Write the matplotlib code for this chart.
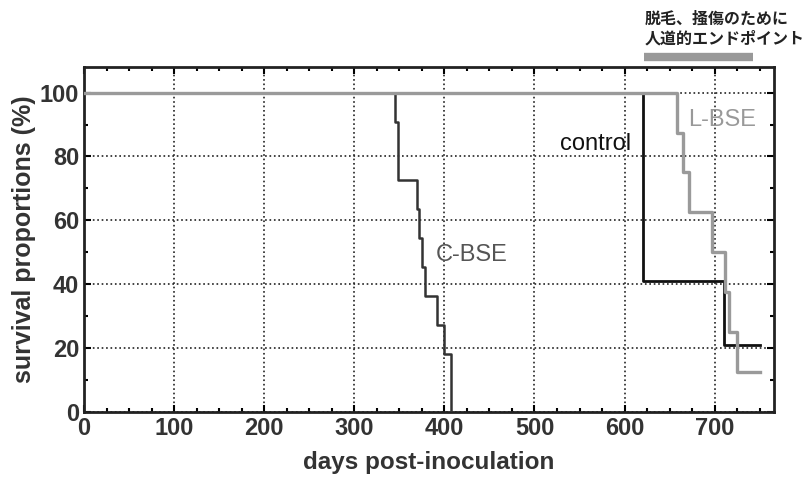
import numpy as np
import matplotlib
matplotlib.use("Agg")
from matplotlib import pyplot as plt
from matplotlib.ticker import MultipleLocator

plt.rcParams['font.family'] = ['Liberation Sans', 'Noto Sans CJK JP', 'DejaVu Sans']

# Kaplan-Meier style step data (days, survival %)
cbse_days = [0, 345, 348, 370, 372, 375, 378, 392, 400, 407]
cbse_surv = [100, 90.9, 72.7, 63.6, 54.5, 45.5, 36.4, 27.3, 18.2, 0]

lbse_days = [0, 658, 665, 671, 697, 711, 716, 725, 750]
lbse_surv = [100, 87.5, 75, 62.5, 50, 37.5, 25, 12.5, 12.5]

ctrl_days = [0, 620, 710, 750]
ctrl_surv = [100, 41, 21, 21]

endpoint_span = [622, 743]
note_lines = ["脱毛、掻傷のために", "人道的エンドポイント"]

fig = plt.figure(figsize=(8.1, 4.79), dpi=100)
ax = fig.add_axes([0.1037, 0.140, 0.852, 0.720])

ax.step(ctrl_days, ctrl_surv, where='post', color='#111111', lw=2.0, zorder=3)
ax.step(cbse_days, cbse_surv, where='post', color='#333333', lw=1.8, zorder=3)
ax.step(lbse_days, lbse_surv, where='post', color='#9a9a9a', lw=2.4, zorder=4)

ax.set_xlim(0, 766)
ax.set_ylim(0, 108)
ax.xaxis.set_major_locator(MultipleLocator(100))
ax.xaxis.set_minor_locator(MultipleLocator(25))
ax.yaxis.set_major_locator(MultipleLocator(20))
ax.yaxis.set_minor_locator(MultipleLocator(10))
ax.tick_params(which='both', direction='in', top=True, right=True, width=1.5)
ax.tick_params(which='major', length=5, labelsize=17, labelcolor='#333333')
ax.tick_params(which='minor', length=3)
for lab in ax.get_xticklabels() + ax.get_yticklabels():
    lab.set_fontweight('bold')
ax.grid(True, which='major', ls=':', color='#222222', lw=1.2)
for sp in ax.spines.values():
    sp.set_linewidth(2)
    sp.set_color('#222222')

ax.set_xlabel("days post-inoculation", fontsize=17.5, fontweight='bold', color='#333333', labelpad=8)
ax.set_ylabel("survival proportions (%)", fontsize=18, fontweight='bold', color='#333333', labelpad=3)

ax.text(568, 84, "control", fontsize=17, color='#111111', ha='center', va='center', zorder=5)
ax.text(708, 91.5, "L-BSE", fontsize=17, color='#999999', ha='center', va='center', zorder=5)
ax.text(430, 49, "C-BSE", fontsize=17, color='#555555', ha='center', va='center', zorder=5)

# humane endpoint note above the axes
ax.plot(endpoint_span, [111, 111], color='#999999', lw=6, clip_on=False, solid_capstyle='butt')
ax.text(endpoint_span[0], 123, note_lines[0], fontsize=11.5, fontweight='bold', color='#222222',
        ha='left', va='center', family=['Noto Sans CJK JP'], clip_on=False)
ax.text(endpoint_span[0], 116.8, note_lines[1], fontsize=11.5, fontweight='bold', color='#222222',
        ha='left', va='center', family=['Noto Sans CJK JP'], clip_on=False)

fig.savefig("out.png", dpi=100)
